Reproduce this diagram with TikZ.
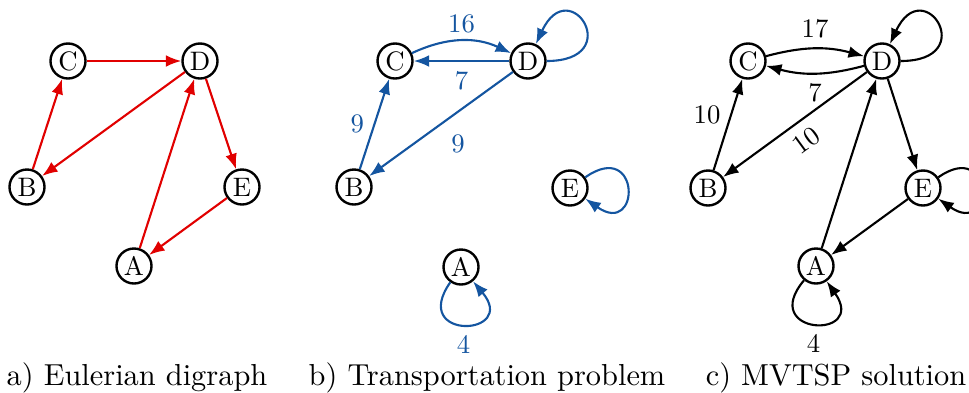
\documentclass[tikz,border=0pt]{standalone}
\usetikzlibrary{arrows.meta}
\definecolor{eulred}{RGB}{225,0,0}
\definecolor{trblue}{RGB}{20,85,160}
\begin{document}
\begin{tikzpicture}[x=0.0125cm,y=-0.0125cm,
  vert/.style={circle,draw=black,line width=0.85pt,minimum size=0.4375cm,inner sep=0pt,font=\fontsize{9.5}{11}\selectfont},
  diedge/.style={-{Latex[length=5.5pt,width=4.2pt]},line width=0.75pt},
  wlab/.style={font=\fontsize{9.5}{11}\selectfont},
  subcap/.style={anchor=base,font=\fontsize{10.8}{13}\selectfont}]
\useasboundingbox (0,0) rectangle (969,392);
\node[vert] (aC) at (68,61) {C};
\node[vert] (aD) at (200,61) {D};
\node[vert] (aB) at (27,187) {B};
\node[vert] (aE) at (242,187) {E};
\node[vert] (aA) at (134,266) {A};
\draw[diedge,eulred] (aC) -- (aD);
\draw[diedge,eulred] (aD) -- (aB);
\draw[diedge,eulred] (aD) -- (aE);
\draw[diedge,eulred] (aB) -- (aC);
\draw[diedge,eulred] (aA) -- (aD);
\draw[diedge,eulred] (aE) -- (aA);
\node[subcap] (capa) at (137,385) {a) Eulerian digraph};
\node[vert] (bC) at (395,61) {C};
\node[vert] (bD) at (528,61) {D};
\node[vert] (bB) at (354,187) {B};
\node[vert] (bE) at (570,188) {E};
\node[vert] (bA) at (461,267) {A};
\draw[diedge,trblue] (bC) to[bend left=25] node[wlab,above=-1pt] {16} (bD);
\draw[diedge,trblue] (bD) -- node[wlab,below] {7} (bC);
\draw[diedge,trblue] (bB) -- node[wlab,left] {9} (bC);
\draw[diedge,trblue] (bD) -- node[wlab,below right] {9} (bB);
\draw[diedge,trblue] (bD) to[out=0,in=65,distance=1cm] (bD);
\draw[diedge,trblue] (bE) to[out=35,in=-35,distance=0.85cm] (bE);
\draw[diedge,trblue] (bA) to[out=-125,in=-50,distance=0.9cm] node[wlab,below=0pt] {4} (bA);
\node[subcap] (capb) at (487,385) {b) Transportation problem};
\node[vert] (cC) at (748,61) {C};
\node[vert] (cD) at (882,61) {D};
\node[vert] (cB) at (708,188) {B};
\node[vert] (cE) at (923,188) {E};
\node[vert] (cA) at (816,266) {A};
\draw[diedge] (cC) to[bend left=15] node[wlab,above] {17} (cD);
\draw[diedge] (cD) to[bend left=15] node[wlab,below] {7} (cC);
\draw[diedge] (cB) -- node[wlab,pos=0.6,left] {10} (cC);
\draw[diedge] (cD) -- node[wlab,sloped,below] {10} (cB);
\draw[diedge] (cD) to[out=0,in=65,distance=1cm] (cD);
\draw[diedge] (cD) -- (cE);
\draw[diedge] (cA) -- (cD);
\draw[diedge] (cE) -- (cA);
\draw[diedge] (cE) to[out=35,in=-35,distance=0.85cm] (cE);
\draw[diedge] (cA) to[out=-130,in=-55,distance=0.9cm] node[wlab,below=0pt] {4} (cA);
\node[subcap] (capc) at (836,385) {c) MVTSP solution};
\end{tikzpicture}
\end{document}
